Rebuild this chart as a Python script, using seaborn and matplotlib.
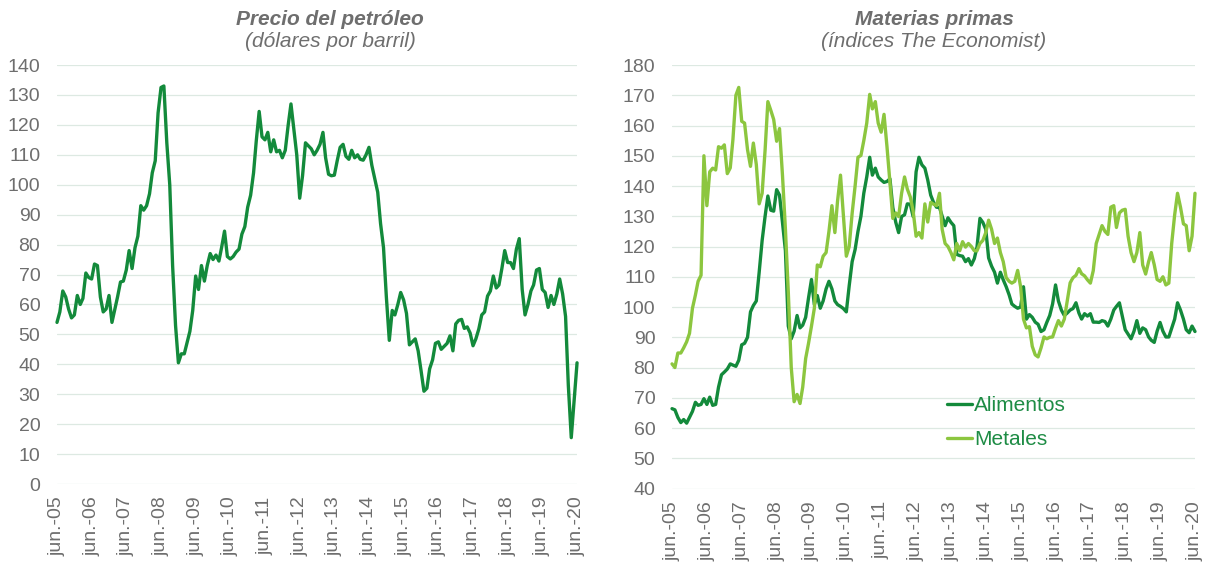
import numpy as np
import pandas as pd
import matplotlib
matplotlib.use("Agg")
import matplotlib.pyplot as plt
import seaborn as sns
from matplotlib.lines import Line2D

# ── Data (monthly, jun-05 .. jun-20) ──────────────────────────
oil = [
    54, 57.5, 64.5, 62.5, 58.5, 55.5, 56.5,                              # 2005
    63, 60, 62, 70.5, 69, 68.5, 73.5, 73, 62.5, 57.5, 58.5, 63,          # 2006
    54, 58.5, 62.5, 67.5, 67.8, 71.5, 78, 72, 79, 82.8, 93, 91.5,        # 2007
    93, 97, 104, 108, 124, 132.5, 133, 114, 100, 73, 53, 40.5,           # 2008
    43.5, 43.5, 47, 51, 58, 69.5, 65, 73, 67.8, 73, 77, 75,              # 2009
    76.5, 74.5, 79, 84.5, 76, 75.2, 76, 77.5, 78.5, 83.5, 86, 92.5,      # 2010
    96.5, 104, 114.5, 124.5, 116, 115, 117.5, 111, 115, 111, 111.5, 109, # 2011
    111.5, 120, 127, 118.5, 110, 95.5, 103, 114, 113, 112, 110, 111.5,   # 2012
    113.5, 117.5, 109, 103.5, 103, 103.2, 108, 112.5, 113.5, 109.5, 108.5, 111.5,  # 2013
    109, 110, 108.5, 108.2, 110, 112.5, 106.5, 102, 97.5, 87, 79, 62.5,  # 2014
    48, 58, 56.5, 60, 64, 61.5, 57, 46.5, 47.5, 48.5, 44.5, 38,          # 2015
    31, 32, 38.5, 41.5, 47, 47.5, 45, 46, 47, 49.5, 44.5, 53.5,          # 2016
    54.7, 55, 52, 52.5, 50.5, 46.2, 48.5, 51.8, 56.5, 57.5, 62.8, 64.5,  # 2017
    69.5, 65.5, 66.5, 72, 78, 74, 74, 72, 78.5, 82, 65, 56.5,            # 2018
    60, 64.5, 66.5, 71.5, 72, 65, 64, 59, 63, 60, 63.5, 68.5,            # 2019
    63.5, 56, 33, 15.5, 28, 40.5,                                        # 2020
]

alimentos = [
    66.4, 66, 63.5, 61.8, 62.8, 61.6, 63.5,
    65.5, 68.5, 67.5, 67.8, 69.7, 67.8, 70.2, 67.5, 67.8, 73.5, 77.6, 78.5,
    79.5, 81.2, 80.8, 80.4, 82.4, 87.5, 88, 90, 98.4, 100.5, 102, 111.5,
    122, 130, 136.7, 132, 131.7, 138.8, 137, 128, 118.6, 93.7, 89.5, 92,
    97.2, 93.1, 94, 96.6, 103, 109.1, 100.8, 103.8, 99.6, 102, 106, 108.5,
    106, 102, 100.8, 100.2, 99.5, 98.4, 107, 115, 119, 125, 130, 137.6,
    143, 149.5, 143.6, 145.9, 143, 142, 141.2, 141.5, 142.4, 132.9, 128, 124.6,
    129.9, 130.5, 134.1, 134, 129.9, 144.7, 149.5, 147, 145.9, 142, 137, 134.6,
    133, 132.9, 130, 126.9, 129.5, 128, 126.9, 117.4, 117, 116.8, 115, 116,
    113.9, 116, 119.8, 129.3, 128, 125.7, 116.2, 113.5, 111.5, 107.9, 111.5, 109,
    106.7, 104, 101, 100.2, 99.6, 100, 106.7, 96, 97.5, 96.6, 95, 94.3,
    91.9, 92.5, 94.9, 97.2, 101, 107.3, 102, 99, 97.2, 98, 99, 99.5,
    101.4, 98, 96, 97.8, 97, 97.8, 95, 95, 94.9, 95.5, 95.2, 93.7,
    96, 99, 100.2, 101.4, 97, 92.5, 91, 89.5, 92, 95.5, 91.3, 93.1,
    92.5, 90.1, 89, 88.3, 92, 94.9, 92, 90.1, 90.1, 93, 96, 101.4,
    99, 96, 92.5, 91.5, 93.7, 91.9,
]

metales = [
    81.2, 80, 84.8, 84.8, 86.5, 88.5, 91.3,
    99.6, 104, 108.5, 110.5, 150, 133.5, 144.7, 145.9, 145.3, 153, 152.5, 153.6,
    144.1, 146, 155.4, 170, 172.6, 161.4, 160.8, 152, 146.5, 154.2, 147.1, 134.1,
    137.6, 151.9, 167.9, 165, 162, 154.8, 159, 143.6, 125.7, 105, 80, 68.7,
    71.1, 68.1, 73.5, 83, 88, 93.7, 99.6, 113.9, 113.3, 116.8, 118, 125,
    133.5, 124.6, 135, 143.6, 130.5, 116.8, 120, 131, 140, 149.5, 150.1, 155,
    160.8, 170.3, 165.5, 167.9, 160.8, 157.8, 163.7, 153, 141.2, 129.3, 131.1, 129.9,
    137.6, 143, 139, 136.4, 131.7, 123.4, 124.6, 122.8, 134.1, 128.1, 134.6, 134,
    133.5, 137.6, 125.7, 121, 120, 118, 115.6, 121, 118.6, 121.6, 119.8, 121,
    120, 118.6, 118.6, 121, 122, 124.6, 128.7, 125.7, 121, 122.8, 118, 115,
    109.7, 108.5, 107.9, 108.5, 112.1, 106.7, 96, 93.1, 93.5, 87, 84.2, 83.5,
    86.5, 90.1, 89.5, 90, 90.1, 93, 95.5, 93.7, 96, 102, 108, 109.7,
    110.5, 112.7, 111, 110.3, 109, 107.9, 112, 121, 124, 126.9, 125, 124,
    133, 133.5, 126.3, 131.1, 132, 132.3, 123.4, 118, 115, 118, 124.6, 113.9,
    110.9, 115, 118, 114, 109.1, 108.5, 110, 107.3, 107.9, 121, 130.5, 137.6,
    133, 127.5, 126.9, 118.6, 123.4, 137.6,
]

dates = pd.date_range("2005-06-01", periods=len(oil), freq="MS")
tick_dates = pd.date_range("2005-06-01", "2020-06-01", freq="12MS")
tick_labels = [f"jun.-{d.year % 100:02d}" for d in tick_dates]

df_oil = pd.DataFrame({"fecha": dates, "valor": oil})
df_mp = pd.DataFrame({
    "fecha": list(dates) * 2,
    "valor": alimentos + metales,
    "serie": ["Alimentos"] * len(alimentos) + ["Metales"] * len(metales),
})

# ── Style ─────────────────────────────────────────────────────
sns.set_theme(style="white")
plt.rcParams["font.family"] = ["Liberation Sans", "DejaVu Sans"]

DARK = "#138a3b"
LIGHT = "#8cc63f"
GREY = "#6e6e6e"
GRID = "#dde9e2"

fig = plt.figure(figsize=(12.1, 5.63), dpi=100)
ax1 = fig.add_axes([0.0471, 0.1403, 0.4298, 0.7442])
ax2 = fig.add_axes([0.5554, 0.1323, 0.4322, 0.7522])

sns.lineplot(data=df_oil, x="fecha", y="valor", color=DARK, lw=2.4, ax=ax1)
sns.lineplot(data=df_mp, x="fecha", y="valor", hue="serie",
             palette={"Alimentos": DARK, "Metales": LIGHT}, lw=2.4, ax=ax2,
             legend=False)

for ax, (lo, hi) in [(ax1, (0, 140)), (ax2, (40, 180))]:
    ax.set_ylim(lo, hi)
    ax.set_yticks(np.arange(lo, hi + 1, 10))
    ax.set_xlim(dates[0], dates[-1])
    ax.set_xticks(tick_dates)
    ax.set_xticklabels(tick_labels, rotation=90)
    ax.tick_params(axis="both", length=0, labelsize=14, colors=GREY)
    ax.tick_params(axis="y", pad=12)
    ax.tick_params(axis="x", pad=9)
    ax.grid(axis="y", color=GRID, lw=0.9)
    ax.set_axisbelow(True)
    for s in ax.spines.values():
        s.set_visible(False)
    ax.set_xlabel("")
    ax.set_ylabel("")
    for ln in ax.lines:
        ln.set_clip_on(False)

# titles
fig.text(0.2727, 0.9645, "Precio del petróleo", ha="center", va="center",
         fontsize=15, fontweight="bold", fontstyle="italic", color=GREY)
fig.text(0.2727, 0.926, "(dólares por barril)", ha="center", va="center",
         fontsize=15, fontstyle="italic", color=GREY)
fig.text(0.772, 0.9645, "Materias primas", ha="center", va="center",
         fontsize=15, fontweight="bold", fontstyle="italic", color=GREY)
fig.text(0.772, 0.926, "(índices The Economist)", ha="center", va="center",
         fontsize=15, fontstyle="italic", color=GREY)

handles = [Line2D([], [], color=DARK, lw=2.4), Line2D([], [], color=LIGHT, lw=2.4)]
ax2.legend(handles, ["Alimentos", "Metales"], loc="upper left",
           bbox_to_anchor=(0.526, 0.218), frameon=False, fontsize=15,
           handlelength=1.2, handletextpad=0.1, labelspacing=0.72,
           labelcolor="#1e8c45", borderaxespad=0, borderpad=0)

fig.savefig("out.png", dpi=100)
